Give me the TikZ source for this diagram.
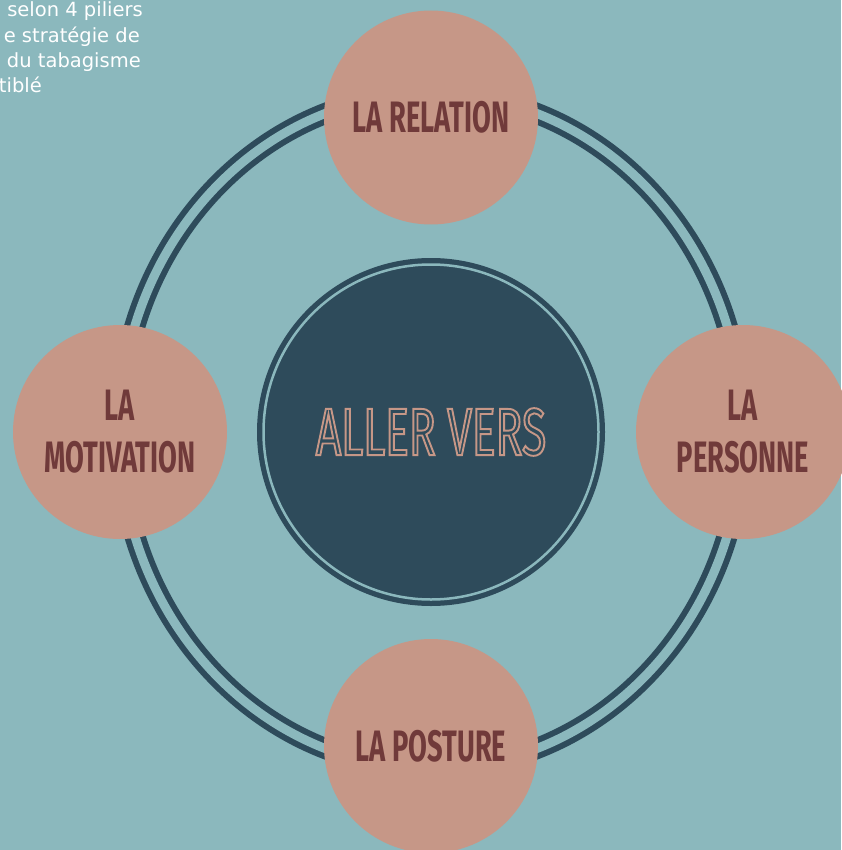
\documentclass[tikz,border=0pt]{standalone}
\usepackage{fontspec}
\usetikzlibrary{positioning}
\newfontfamily\pillarfont[FakeStretch=0.62]{Fira Sans}
\newfontfamily\titlefont[FakeStretch=0.66]{Fira Sans}
\newfontfamily\notefont{DejaVu Sans}
\definecolor{bgteal}{HTML}{8BB8BD}
\definecolor{slate}{HTML}{2E4B5B}
\definecolor{salmon}{HTML}{C69787}
\definecolor{brownred}{HTML}{703A3A}
% texte en contour seul
\newcommand{\outlinetext}[1]{\special{pdf:code q 0.776 0.592 0.529 RG 1.9 w 1 Tr}#1\special{pdf:code Q}}

\begin{document}
\begin{tikzpicture}[x=1pt,y=-1pt,
	pillar/.style={circle, fill=salmon, minimum size=214pt, inner sep=0pt, align=center, text=brownred, font=\pillarfont\bfseries\fontsize{44}{52}\selectfont},
	hub/.style={circle, fill=slate, minimum size=348pt, inner sep=0pt, font=\titlefont\fontsize{67}{80}\selectfont},
	note/.style={anchor=base east, text=white, inner sep=0pt, font=\notefont\fontsize{19.5}{25}\selectfont}]
	
	\fill[bgteal] (0,0) rectangle (841,850);
	\useasboundingbox (0,0) rectangle (841,850);
	
	% texte coupe en haut a gauche
	\node[note] (txt1) at (143,17) {selon 4 piliers};
	\node[note] (txt2) at (140,43) {e stratégie de};
	\node[note] (txt3) at (141,68) {du tabagisme};
	\node[note] (txt4) at (42,93) {tiblé};
	
	% anneau double
	\draw[slate, line width=6pt, double=bgteal, double distance=9pt] (431,431) ellipse [x radius=311.5pt, y radius=337.5pt];
	
	\node[hub] (centre) at (431,432) {\outlinetext{ALLER VERS}};
	\draw[bgteal, line width=2.5pt] (centre.center) circle [radius=167.5pt];
	
	\node[pillar] (relation) at (431,117.5) {LA RELATION};
	\node[pillar] (personne) at (743,432) {LA\\PERSONNE};
	\node[pillar] (posture) at (431,746) {LA POSTURE};
	\node[pillar] (motivation) at (120,432) {LA\\MOTIVATION};
	
\end{tikzpicture}
\end{document}
